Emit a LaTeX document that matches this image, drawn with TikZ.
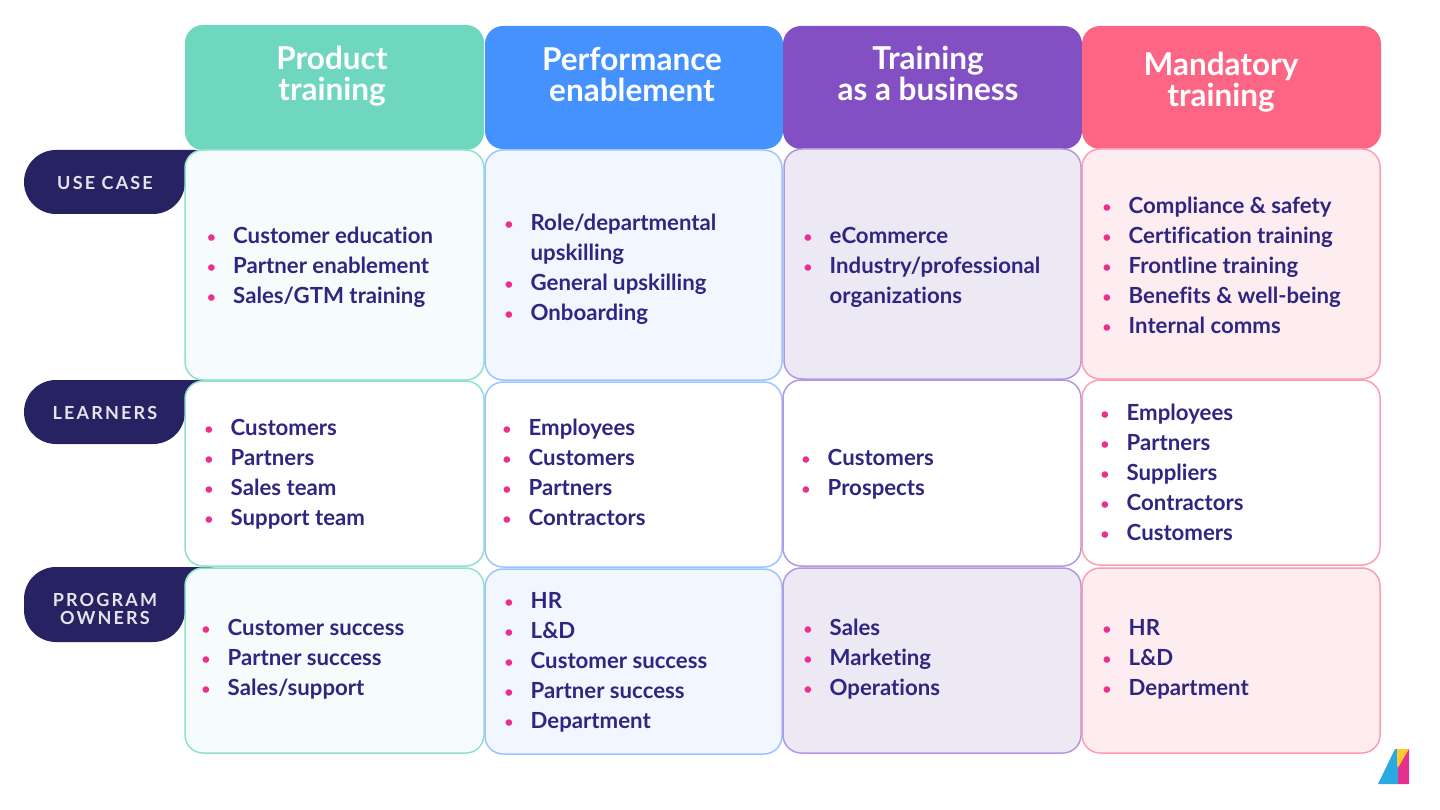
\documentclass[tikz,border=0pt]{standalone}
\usepackage{fontspec}
\setmainfont[Ligatures=NoCommon]{Lato}
\definecolor{navytext}{HTML}{2E2680}
\definecolor{navypill}{HTML}{272262}
\definecolor{dotpink}{HTML}{EC2F8C}
\definecolor{tealhead}{HTML}{6FD6BF}
\definecolor{bluehead}{HTML}{4592FF}
\definecolor{purplehead}{HTML}{8350C4}
\definecolor{coralhead}{HTML}{FD6584}
\definecolor{tealfill}{HTML}{F5FCFB}
\definecolor{bluefill}{HTML}{F2F6FF}
\definecolor{purplefill}{HTML}{ECE9F5}
\definecolor{coralfill}{HTML}{FEEDF0}
\definecolor{tealline}{HTML}{8FE0CD}
\definecolor{blueline}{HTML}{9CC4FF}
\definecolor{purpleline}{HTML}{B596E0}
\definecolor{coralline}{HTML}{FD9DB1}
\definecolor{logoblue}{HTML}{29ABE2}
\definecolor{logoyellow}{HTML}{FFC82C}
\definecolor{logopink}{HTML}{E6308F}
\newcommand{\bl}{\makebox[26.5pt][l]{\hspace{0.5pt}\textcolor{dotpink}{\raisebox{0.8pt}{\fontsize{15}{15}\selectfont•}}}}
\newcommand{\nb}{\hspace*{26.5pt}}
\tikzset{
  headfill/.style={rounded corners=18pt},
  cellbox/.style={rounded corners=18pt,line width=1.5pt},
  pillfill/.style={navypill,rounded corners=32pt},
  headtext/.style={text=white,font=\fontsize{31.5}{31}\selectfont\bfseries,align=center,inner sep=0pt},
  listtext/.style={text=navytext,font=\fontsize{22.2}{30}\selectfont\bfseries,align=left,anchor=west,inner sep=0pt},
  pilltext/.style={text=white!88!navypill,font=\fontsize{18}{18}\selectfont\bfseries,align=center,inner sep=0pt}
}
\begin{document}
\begin{tikzpicture}[x=1pt,y=-1pt]
\useasboundingbox (0,0) rectangle (1440,810);
% row labels go first, the cells lie over them
\fill[pillfill] (200,150) -- (24,150) -- (24,214) -- (185,214) -- (185,150) -- cycle;
\fill[pillfill] (200,380) -- (24,380) -- (24,444) -- (185,444) -- (185,380) -- cycle;
\fill[pillfill] (200,567) -- (24,567) -- (24,642) -- (185,642) -- (185,567) -- cycle;
\node[pilltext] (uselabel) at (105,182.5) {\addfontfeature{LetterSpace=12}USE CASE};
\node[pilltext] (learnlabel) at (105,412.5) {\addfontfeature{LetterSpace=12}LEARNERS};
\node[pilltext] (ownerlabel) at (105,608.5) {\addfontfeature{LetterSpace=12}PROGRAM\\\addfontfeature{LetterSpace=12}OWNERS};
% headers
\fill[tealhead,headfill] (185,25) rectangle (484,150);
\fill[bluehead,headfill] (485,26) rectangle (783,149);
\fill[purplehead,headfill] (783,26) rectangle (1082,149);
\fill[coralhead,headfill] (1082,26) rectangle (1381,149);
\node[headtext] (producthead) at (332,76) {Product\\training};
\node[headtext] (perfhead) at (632,75) {Performance\\enablement};
\node[headtext] (businesshead) at (928,73) {Training\\as a business};
\node[headtext] (mandatoryhead) at (1221,82) {Mandatory\\training};
% cells
\draw[cellbox,tealline,fill=tealfill] (185,150) rectangle (484,380);
\draw[cellbox,blueline,fill=bluefill] (485,150) rectangle (782,380);
\draw[cellbox,purpleline,fill=purplefill] (784,149) rectangle (1081,379);
\draw[cellbox,coralline,fill=coralfill] (1082,149) rectangle (1380,379);
\draw[cellbox,tealline,fill=white] (185,381) rectangle (484,566);
\draw[cellbox,blueline,fill=white] (485,382) rectangle (782,567);
\draw[cellbox,purpleline,fill=white] (783,380) rectangle (1081,566);
\draw[cellbox,coralline,fill=white] (1082,380) rectangle (1380,565);
\draw[cellbox,tealline,fill=tealfill] (185,568) rectangle (484,753);
\draw[cellbox,blueline,fill=bluefill] (485,569) rectangle (782,754);
\draw[cellbox,purpleline,fill=purplefill] (783,568) rectangle (1081,753);
\draw[cellbox,coralline,fill=coralfill] (1082,568) rectangle (1380,753);
% lists
\node[listtext] (produse) at (206.5,267) {\bl Customer education\\\bl Partner enablement\\\bl Sales/GTM training};
\node[listtext] (perfuse) at (504,269) {\bl Role/departmental\\\nb upskilling\\\bl General upskilling\\\bl Onboarding};
\node[listtext] (bususe) at (803,267) {\bl eCommerce\\\bl Industry/professional\\\nb organizations};
\node[listtext] (mandues) at (1102,265.5) {\bl Compliance \& safety\\\bl Certification training\\\bl Frontline training\\\bl Benefits \& well-being\\\bl Internal comms};
\node[listtext] (prodlearn) at (204,474) {\bl Customers\\\bl Partners\\\bl Sales team\\\bl Support team};
\node[listtext] (perflearn) at (502,472.5) {\bl Employees\\\bl Customers\\\bl Partners\\\bl Contractors};
\node[listtext] (buslearn) at (801,474) {\bl Customers\\\bl Prospects};
\node[listtext] (manlearn) at (1100,472.5) {\bl Employees\\\bl Partners\\\bl Suppliers\\\bl Contractors\\\bl Customers};
\node[listtext] (prodown) at (201,659) {\bl Customer success\\\bl Partner success\\\bl Sales/support};
\node[listtext] (perfown) at (504,662.5) {\bl HR\\\bl L\&D\\\bl Customer success\\\bl Partner success\\\bl Department};
\node[listtext] (busown) at (803,659) {\bl Sales\\\bl Marketing\\\bl Operations};
\node[listtext] (manown) at (1102,659) {\bl HR\\\bl L\&D\\\bl Department};
% logo
\fill[logoblue] (1378,784) -- (1395,749) -- (1398,749) -- (1398,784) -- cycle;
\fill[logoyellow] (1397,749) -- (1409,749) -- (1399,770) -- (1397,765) -- cycle;
\fill[logopink] (1409,749) -- (1409,784) -- (1398,784) -- (1398,768) -- cycle;
\end{tikzpicture}
\end{document}
